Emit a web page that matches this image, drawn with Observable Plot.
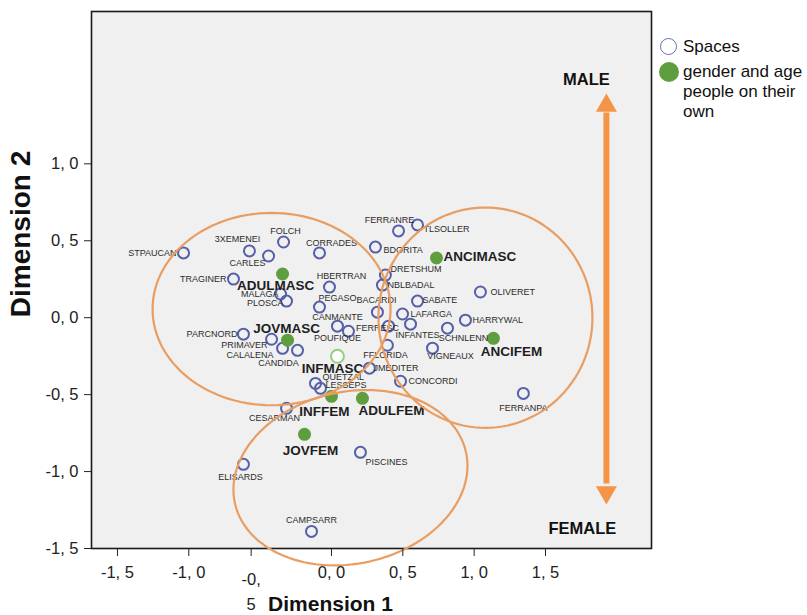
<!DOCTYPE html>
<html><head><meta charset="utf-8">
<script src="https://cdn.jsdelivr.net/npm/d3@7"></script>
<script src="https://cdn.jsdelivr.net/npm/@observablehq/plot@0.6"></script>
<style>
body{margin:0;background:#fff;}
#wrap{position:relative;width:807px;height:615px;font-family:"Liberation Sans",Arial,Helvetica,sans-serif;}
.lg{position:absolute;font-size:17px;color:#111;line-height:20px;}
.ring{position:absolute;width:17px;height:17px;border:1.6px solid #6670b0;border-radius:50%;box-sizing:border-box;background:#fff;}
.disc{position:absolute;width:20px;height:20px;border-radius:50%;background:#5f9e3e;}
</style></head><body><div id="wrap"></div>
<script>
// ---- data ----
const spaceNames = ["STPAUCAN","3XEMENEI","CARLES","FOLCH","CORRADES","TRAGINER","MALAGA","PLOSCA","HBERTRAN","PEGASO","CANMANTE","POUFIQUE","PARCNORD","PRIMAVER","CALALENA","CANDIDA","QUETZAL","LESSEPS","FERRANRE","TLSOLLER","BDORITA","DRETSHUM","NBLBADAL","OLIVERET","BACARDI","SABATE","LAFARGA","INFANTES","HARRYWAL","FERRESC","SCHNLENN","FFLORIDA","VIGNEAUX","JMEDITER","CONCORDI","FERRANPA","CESARMAN","PISCINES","ELISARDS","CAMPSARR"];
const spaceX = [-1.037,-0.575,-0.441,-0.336,-0.084,-0.687,-0.357,-0.315,-0.014,-0.084,0.042,0.119,-0.617,-0.420,-0.343,-0.238,-0.112,-0.077,0.470,0.603,0.308,0.378,0.357,1.044,0.322,0.603,0.498,0.554,0.939,0.400,0.813,0.392,0.708,0.266,0.484,1.345,-0.315,0.203,-0.617,-0.140];
const spaceY = [0.421,0.434,0.401,0.492,0.421,0.251,0.154,0.108,0.199,0.069,-0.055,-0.088,-0.107,-0.140,-0.199,-0.212,-0.427,-0.459,0.564,0.603,0.459,0.277,0.212,0.167,0.036,0.108,0.024,-0.042,-0.016,-0.055,-0.068,-0.179,-0.198,-0.328,-0.413,-0.492,-0.589,-0.875,-0.953,-1.389];
// label placement: [anchor, dx, dy]
const spaceLabelPos = [["end",-7,0],["middle",-12,-12],["end",-3,7],["middle",2,-11],["middle",12,-10],["end",-7,0],["end",-2,0],["end",-3,2],["middle",12,-11],["middle",18,-9],["middle",0,-9],["middle",-11,7],["end",-6,0],["end",-4,6],["end",-9,7],["middle",-19,13],["start",7,-6],["start",5,-3],["middle",-9,-11],["start",6,4],["start",8,3],["start",5,-6],["start",5,0],["start",10,0],["middle",-1,-12],["start",5,-1],["start",8,0],["middle",7,11],["start",7,0],["middle",-11,2],["middle",16,10],["middle",-2,10],["middle",18,8],["start",4,0],["start",8,0],["middle",0,15],["middle",-12,10],["middle",26,10],["middle",-3,13],["middle",0,-11]];

const groupNames = ["ADULMASC","JOVMASC","INFMASC","ANCIMASC","ANCIFEM","INFFEM","ADULFEM","JOVFEM"];
const groupX = [-0.343,-0.308,0.042,0.736,1.135,0.000,0.217,-0.189];
const groupY = [0.284,-0.146,-0.251,0.388,-0.134,-0.511,-0.524,-0.758];
const groupHollow = [false,false,true,false,false,false,false,false];
const groupLabelPos = [["middle",-7,12],["middle",-1,-11],["middle",-5,12],["start",7,-1],["middle",18,13],["middle",-7,15],["middle",29,12],["middle",6,16]];

const xTicks = [-1.5,-1,-0.5,0,0.5,1,1.5];
const xTickLabels = ["-1, 5","-1, 0","-0,\n5","0, 0","0, 5","1, 0","1, 5"];
const yTicks = [1,0.5,0,-0.5,-1,-1.5];
const yTickLabels = ["1, 0","0, 5","0, 0","-0, 5","-1, 0","-1, 5"];

// ellipses (data units): centre, radii, rotation (deg)
const ellipseCX = [-0.420, 1.079, 0.133];
const ellipseCY = [0.056, 0.000, -1.040];
const ellipseRX = [0.834, 0.750, 0.827];
const ellipseRY = [0.625, 0.716, 0.560];
const ellipseRot = [0, 0, 10];

// annotations
const arrowX = [1.927];
const arrowShaft = [-1.08, 1.33];
const arrowHeadY = [1.378, -1.135];
const arrowHeadRot = [0, 180];
const sexLabels = ["MALE","FEMALE"];
const sexX = [1.787, 1.759];
const sexY = [1.547, -1.371];

// ---- build ----
const spaces = spaceNames.map((n,i)=>({n,x:spaceX[i],y:spaceY[i],a:spaceLabelPos[i]}));
const groups = groupNames.map((n,i)=>({n,x:groupX[i],y:groupY[i],h:groupHollow[i],a:groupLabelPos[i]}));
const ellPts = [];
ellipseCX.forEach((cx,e)=>{
  const rot = ellipseRot[e]*Math.PI/180;
  for(let k=0;k<120;k++){
    const t = 2*Math.PI*k/120;
    const ux = ellipseRX[e]*Math.cos(t), uy = ellipseRY[e]*Math.sin(t);
    ellPts.push({e, x: cx + ux*Math.cos(rot) - uy*Math.sin(rot), y: ellipseCY[e] + ux*Math.sin(rot) + uy*Math.cos(rot)});
  }
});
const FONT = "Liberation Sans, Arial, Helvetica, sans-serif";
const labelMarks = [
  ...spaces.map(d=>Plot.text([d],{x:"x",y:"y",text:"n",textAnchor:d.a[0],dx:d.a[1],dy:d.a[2],fontSize:9,fill:"#2c2c2c"})),
  ...groups.map(d=>Plot.text([d],{x:"x",y:"y",text:"n",textAnchor:d.a[0],dx:d.a[1],dy:d.a[2],fontSize:13.5,fontWeight:"bold",fill:"#1e1e1e"}))
];
const xMain = xTicks.filter((d,i)=>!xTickLabels[i].includes("\n"));
const xWrap = xTicks.filter((d,i)=>xTickLabels[i].includes("\n"));
const xfmt = d => xTickLabels[xTicks.indexOf(d)];

const chart = Plot.plot({
  width: 807, height: 615,
  marginLeft: 91, marginRight: 156, marginTop: 11, marginBottom: 67,
  x: {domain: [-1.682, 2.243]},
  y: {domain: [-1.5, 1.99]},
  style: {fontFamily: FONT, background: "white", color: "#222", overflow: "visible"},
  marks: [
    Plot.frame({fill: "#f0f0f0", stroke: null}),
    Plot.frame({stroke:"#1a1a1a", strokeWidth:1.6}),
    Plot.ruleX(arrowX, {x: d=>d, y1: arrowShaft[0], y2: arrowShaft[1], stroke:"#f39447", strokeWidth:6}),
    Plot.dot(arrowHeadY, {x: arrowX[0], y: d=>d, symbol:"triangle", r:7.8, fill:"#f39447", rotate:(d,i)=>arrowHeadRot[i]}),
    Plot.text(sexLabels, {x:(d,i)=>sexX[i], y:(d,i)=>sexY[i], text:d=>d, fontSize:16.5, fontWeight:"bold", fill:"#111"}),
    Plot.dot(spaces, {x:"x", y:"y", r:5.5, stroke:"#5560a8", strokeWidth:2, fill:"none"}),
    Plot.dot(groups, {x:"x", y:"y", r:6.5, fill:d=>d.h?"#ffffff":"#5f9e3e", stroke:d=>d.h?"#92d07c":"none", strokeWidth:2}),
    ...labelMarks,
    Plot.line(ellPts, {x:"x", y:"y", z:"e", stroke:"#e89d62", strokeWidth:2.2, curve:"linear-closed", clip:false}),
    Plot.axisY(yTicks, {tickFormat: d=>yTickLabels[yTicks.indexOf(d)], tickSize:7, tickPadding:6, fontSize:16.5, label:null, anchor:"left"}),
    Plot.axisX(xMain, {tickFormat: xfmt, tickSize:8, tickPadding:10, fontSize:16.5, label:null, anchor:"bottom"}),
    Plot.axisX(xWrap, {tickFormat: xfmt, tickSize:8, tickPadding:10, fontSize:16.5, label:null, anchor:"bottom", dx:-9, lineHeight:1.55}),
    Plot.text(["Dimension 1"], {frameAnchor:"bottom", text:d=>d, dx:-41, dy:62, fontSize:21, fontWeight:"bold", fill:"#111"}),
    Plot.text(["Dimension 2"], {frameAnchor:"left", textAnchor:"middle", lineAnchor:"middle", text:d=>d, dx:-70, dy:-46, rotate:-90, fontSize:28, fontWeight:"bold", fill:"#111"})
  ]
});
const wrap = document.getElementById("wrap");
wrap.appendChild(chart);
// legend
const legendItems = ["Spaces", "gender and age\npeople on their\nown"];
const lgHTML = `
<div class="ring" style="left:660px;top:38px"></div>
<div class="lg" style="left:683px;top:37px">${legendItems[0]}</div>
<div class="disc" style="left:659px;top:62px"></div>
<div class="lg" style="left:683px;top:62px;white-space:pre">${legendItems[1]}</div>`;
const lg = document.createElement("div");
lg.innerHTML = lgHTML;
wrap.appendChild(lg);
</script></body></html>
